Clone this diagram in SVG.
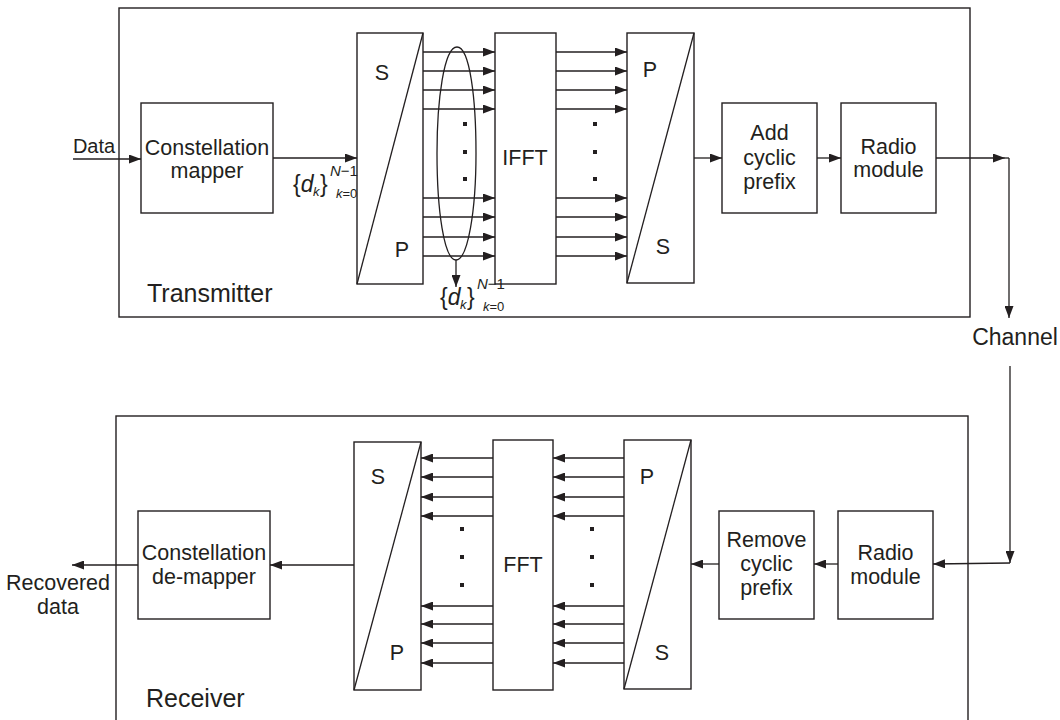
<svg xmlns="http://www.w3.org/2000/svg" width="1060" height="720" viewBox="0 0 1060 720">
<style>
.box{fill:none;stroke:#231f20;stroke-width:1.4}
.frame{fill:none;stroke:#231f20;stroke-width:1.4}
.ln{fill:none;stroke:#231f20;stroke-width:1.3}
.arr{fill:none;stroke:#231f20;stroke-width:1.3;marker-end:url(#ah)}
text{font-family:"Liberation Sans",Arial,sans-serif;fill:#231f20}
.t{font-size:21.5px;text-anchor:middle}
.big{font-size:25px}
.dot{fill:#231f20}
</style>
<defs>
<marker id="ah" markerUnits="userSpaceOnUse" markerWidth="13" markerHeight="9" refX="12" refY="4.5" orient="auto">
<path d="M0,0 L12,4.5 L0,9 z" fill="#231f20"/>
</marker>
</defs>
<rect width="1060" height="720" fill="#fff"/>

<g id="transmitter">
<rect class="frame" x="119" y="8" width="851" height="309"/>
<text class="big" x="147" y="302">Transmitter</text>
</g>
<g id="receiver">
<rect class="frame" x="116" y="416" width="852" height="320"/>
<text class="big" x="146" y="707">Receiver</text>
</g>

<g id="tx-mapper">
<rect class="box" x="141" y="103" width="132" height="110"/>
<text class="t" x="207" y="155">Constellation</text>
<text class="t" x="207" y="178">mapper</text>
</g>
<g id="tx-sp">
<rect class="box" x="357" y="33" width="66" height="251"/>
<line class="ln" x1="357" y1="284" x2="423" y2="33"/>
<text class="t" x="382" y="80">S</text>
<text class="t" x="402" y="257">P</text>
</g>
<g id="tx-ifft">
<rect class="box" x="495" y="33" width="61" height="251"/>
<text class="t" x="525" y="165">IFFT</text>
</g>
<g id="tx-ps">
<rect class="box" x="627" y="33" width="67" height="250"/>
<line class="ln" x1="627" y1="283" x2="694" y2="33"/>
<text class="t" x="650" y="77">P</text>
<text class="t" x="663" y="254">S</text>
</g>
<g id="tx-cp">
<rect class="box" x="722" y="103" width="95" height="110"/>
<text class="t" x="769.5" y="140">Add</text>
<text class="t" x="769.5" y="165">cyclic</text>
<text class="t" x="769.5" y="189">prefix</text>
</g>
<g id="tx-radio">
<rect class="box" x="841" y="103" width="95" height="110"/>
<text class="t" x="888.5" y="154">Radio</text>
<text class="t" x="888.5" y="177">module</text>
</g>

<g id="rx-demapper">
<rect class="box" x="138" y="511" width="132" height="108"/>
<text class="t" x="204" y="560">Constellation</text>
<text class="t" x="204" y="584">de-mapper</text>
</g>
<g id="rx-sp">
<rect class="box" x="354" y="442" width="67" height="248"/>
<line class="ln" x1="354" y1="690" x2="421" y2="442"/>
<text class="t" x="378" y="484">S</text>
<text class="t" x="397" y="660">P</text>
</g>
<g id="rx-fft">
<rect class="box" x="493" y="440" width="60" height="250"/>
<text class="t" x="523" y="572">FFT</text>
</g>
<g id="rx-ps">
<rect class="box" x="624" y="440" width="67" height="249"/>
<line class="ln" x1="624" y1="689" x2="691" y2="440"/>
<text class="t" x="647" y="484">P</text>
<text class="t" x="662" y="660">S</text>
</g>
<g id="rx-cp">
<rect class="box" x="719" y="511" width="95" height="108"/>
<text class="t" x="766.5" y="547">Remove</text>
<text class="t" x="766.5" y="571">cyclic</text>
<text class="t" x="766.5" y="595">prefix</text>
</g>
<g id="rx-radio">
<rect class="box" x="838" y="511" width="95" height="108"/>
<text class="t" x="885.5" y="560">Radio</text>
<text class="t" x="885.5" y="584">module</text>
</g>

<g id="labels">
<text x="94" y="153" style="font-size:20px;text-anchor:middle">Data</text>
<text class="t" x="1015" y="345" style="font-size:23px">Channel</text>
<text class="t" x="58" y="590">Recovered</text>
<text class="t" x="58" y="614">data</text>
<g id="dk1">
<text x="293" y="192" style="font-size:23px">{<tspan font-style="italic">d</tspan></text>
<text x="313" y="196" style="font-size:13px;font-style:italic">k</text>
<text x="320" y="192" style="font-size:23px">}</text>
<text x="330" y="176" style="font-size:15px"><tspan font-style="italic">N</tspan>−1</text>
<text x="336" y="198" style="font-size:13px"><tspan font-style="italic">k</tspan>=0</text>
</g>
<g id="dk2" transform="translate(147,113)">
<text x="293" y="192" style="font-size:23px">{<tspan font-style="italic">d</tspan></text>
<text x="313" y="196" style="font-size:13px;font-style:italic">k</text>
<text x="320" y="192" style="font-size:23px">}</text>
<text x="330" y="176" style="font-size:15px"><tspan font-style="italic">N</tspan>−1</text>
<text x="336" y="198" style="font-size:13px"><tspan font-style="italic">k</tspan>=0</text>
</g>
</g>

<g id="dots">
<rect class="dot" x="463" y="122" width="4" height="4"/>
<rect class="dot" x="463" y="150" width="4" height="4"/>
<rect class="dot" x="463" y="177" width="4" height="4"/>
<rect class="dot" x="593" y="122" width="4" height="4"/>
<rect class="dot" x="593" y="150" width="4" height="4"/>
<rect class="dot" x="593" y="177" width="4" height="4"/>
<rect class="dot" x="460" y="527" width="4" height="4"/>
<rect class="dot" x="460" y="555" width="4" height="4"/>
<rect class="dot" x="460" y="583" width="4" height="4"/>
<rect class="dot" x="590" y="527" width="4" height="4"/>
<rect class="dot" x="590" y="555" width="4" height="4"/>
<rect class="dot" x="590" y="583" width="4" height="4"/>
</g>

<g id="connectors">
<line class="arr" x1="73" y1="159" x2="141" y2="159"/>
<line class="arr" x1="273" y1="158" x2="357" y2="158"/>
<line class="arr" x1="423" y1="52" x2="495" y2="52"/>
<line class="arr" x1="423" y1="71" x2="495" y2="71"/>
<line class="arr" x1="423" y1="90" x2="495" y2="90"/>
<line class="arr" x1="423" y1="109" x2="495" y2="109"/>
<line class="arr" x1="423" y1="198" x2="495" y2="198"/>
<line class="arr" x1="423" y1="217" x2="495" y2="217"/>
<line class="arr" x1="423" y1="237" x2="495" y2="237"/>
<line class="arr" x1="423" y1="256" x2="495" y2="256"/>
<path class="ln" d="M457,47 C470,47 476,100 476,153 C476,210 468,260 456,260 C444,260 437,210 437,153 C437,100 444,47 457,47 Z"/>
<line class="arr" x1="456" y1="260" x2="456" y2="287"/>
<line class="arr" x1="556" y1="52" x2="627" y2="52"/>
<line class="arr" x1="556" y1="71" x2="627" y2="71"/>
<line class="arr" x1="556" y1="90" x2="627" y2="90"/>
<line class="arr" x1="556" y1="109" x2="627" y2="109"/>
<line class="arr" x1="556" y1="198" x2="627" y2="198"/>
<line class="arr" x1="556" y1="217" x2="627" y2="217"/>
<line class="arr" x1="556" y1="237" x2="627" y2="237"/>
<line class="arr" x1="556" y1="256" x2="627" y2="256"/>
<line class="arr" x1="694" y1="158" x2="722" y2="158"/>
<line class="arr" x1="817" y1="158" x2="841" y2="158"/>
<line class="arr" x1="936" y1="158" x2="1005" y2="158"/>
<line class="ln" x1="1005" y1="158" x2="1009" y2="158"/>
<line class="arr" x1="1009" y1="158" x2="1009" y2="318"/>
<line class="arr" x1="1010" y1="366" x2="1010" y2="563"/>
<line class="arr" x1="1010" y1="563" x2="933" y2="564"/>
<line class="arr" x1="838" y1="564" x2="814" y2="564"/>
<line class="arr" x1="719" y1="564" x2="691" y2="564"/>
<line class="arr" x1="624" y1="458" x2="553" y2="458"/>
<line class="arr" x1="624" y1="477" x2="553" y2="477"/>
<line class="arr" x1="624" y1="497" x2="553" y2="497"/>
<line class="arr" x1="624" y1="516" x2="553" y2="516"/>
<line class="arr" x1="624" y1="606" x2="553" y2="606"/>
<line class="arr" x1="624" y1="624" x2="553" y2="624"/>
<line class="arr" x1="624" y1="643" x2="553" y2="643"/>
<line class="arr" x1="624" y1="663" x2="553" y2="663"/>
<line class="arr" x1="493" y1="458" x2="421" y2="458"/>
<line class="arr" x1="493" y1="477" x2="421" y2="477"/>
<line class="arr" x1="493" y1="497" x2="421" y2="497"/>
<line class="arr" x1="493" y1="516" x2="421" y2="516"/>
<line class="arr" x1="493" y1="606" x2="421" y2="606"/>
<line class="arr" x1="493" y1="624" x2="421" y2="624"/>
<line class="arr" x1="493" y1="643" x2="421" y2="643"/>
<line class="arr" x1="493" y1="663" x2="421" y2="663"/>
<line class="arr" x1="354" y1="565" x2="270" y2="565"/>
<line class="arr" x1="138" y1="565" x2="72" y2="565"/>
</g>
</svg>
